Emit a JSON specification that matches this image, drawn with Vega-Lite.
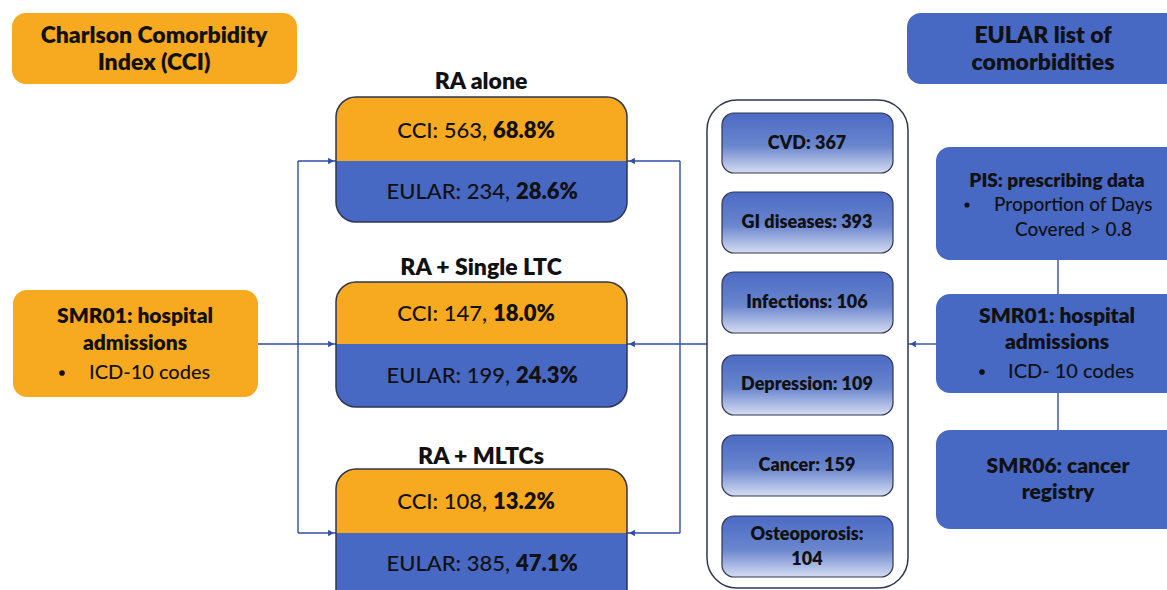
{
  "$schema": "https://vega.github.io/schema/vega-lite/v6.json",
  "width": 1167,
  "height": 590,
  "padding": 0,
  "autosize": {"type": "fit", "contains": "padding"},
  "background": "white",
  "config": {"view": {"stroke": null}, "text": {"font": "Lato", "color": "#111111"}},
  "datasets": {
    "links": [
      {"x": 258, "y": 344, "x2": 336, "y2": 344},
      {"x": 298, "y": 161, "x2": 298, "y2": 533},
      {"x": 298, "y": 161, "x2": 336, "y2": 161},
      {"x": 298, "y": 533, "x2": 336, "y2": 533},
      {"x": 707, "y": 344, "x2": 627, "y2": 344},
      {"x": 680, "y": 161, "x2": 680, "y2": 533},
      {"x": 680, "y": 161, "x2": 627, "y2": 161},
      {"x": 680, "y": 533, "x2": 627, "y2": 533},
      {"x": 936, "y": 344, "x2": 908, "y2": 344},
      {"x": 1058, "y": 260, "x2": 1058, "y2": 294},
      {"x": 1058, "y": 393, "x2": 1058, "y2": 430}
    ],
    "solidBoxes": [
      {"name": "Charlson", "source": "CCI", "x": 12, "x2": 297, "y": 13, "y2": 84},
      {"name": "SMR01 left", "source": "CCI", "x": 13, "x2": 258, "y": 290, "y2": 397},
      {"name": "EULAR list", "source": "EULAR", "x": 907, "x2": 1190, "y": 13, "y2": 84},
      {"name": "PIS", "source": "EULAR", "x": 936, "x2": 1190, "y": 147, "y2": 260},
      {"name": "SMR01 right", "source": "EULAR", "x": 936, "x2": 1190, "y": 294, "y2": 393},
      {"name": "SMR06", "source": "EULAR", "x": 936, "x2": 1190, "y": 430, "y2": 529}
    ],
    "container": [{"x": 707, "x2": 908, "y": 100, "y2": 588}],
    "items": [
      {"label": "CVD: 367", "x": 722, "x2": 893, "y": 113, "y2": 173},
      {"label": "GI diseases: 393", "x": 722, "x2": 893, "y": 192, "y2": 253},
      {"label": "Infections: 106", "x": 722, "x2": 893, "y": 272, "y2": 333},
      {"label": "Depression: 109", "x": 722, "x2": 893, "y": 355, "y2": 415},
      {"label": "Cancer: 159", "x": 722, "x2": 893, "y": 435, "y2": 496},
      {"label": "Osteoporosis: 104", "x": 722, "x2": 893, "y": 516, "y2": 577}
    ],
    "outcomes": [
      {"group": "RA alone", "measure": "CCI", "x": 336, "x2": 627, "y": 97, "y2": 161},
      {"group": "RA alone", "measure": "EULAR", "x": 336, "x2": 627, "y": 161, "y2": 222},
      {"group": "RA + Single LTC", "measure": "CCI", "x": 336, "x2": 627, "y": 282, "y2": 344},
      {"group": "RA + Single LTC", "measure": "EULAR", "x": 336, "x2": 627, "y": 344, "y2": 407},
      {"group": "RA + MLTCs", "measure": "CCI", "x": 336, "x2": 627, "y": 469, "y2": 533},
      {"group": "RA + MLTCs", "measure": "EULAR", "x": 336, "x2": 627, "y": 533, "y2": 610}
    ],
    "frames": [
      {"group": "RA alone", "x": 336, "x2": 627, "y": 97, "y2": 222},
      {"group": "RA + Single LTC", "x": 336, "x2": 627, "y": 282, "y2": 407},
      {"group": "RA + MLTCs", "x": 336, "x2": 627, "y": 469, "y2": 610}
    ],
    "arrows": [
      {"dir": "right", "x": 331, "y": 161},
      {"dir": "right", "x": 331, "y": 344},
      {"dir": "right", "x": 331, "y": 533},
      {"dir": "left", "x": 632, "y": 161},
      {"dir": "left", "x": 632, "y": 344},
      {"dir": "left", "x": 632, "y": 533},
      {"dir": "left", "x": 913, "y": 344}
    ],
    "pct": [
      {"lead": "CCI: 563,", "value": "68.8%", "x": 493, "y": 131},
      {"lead": "EULAR: 234,", "value": "28.6%", "x": 516, "y": 192},
      {"lead": "CCI: 147,", "value": "18.0%", "x": 493, "y": 314},
      {"lead": "EULAR: 199,", "value": "24.3%", "x": 516, "y": 376},
      {"lead": "CCI: 108,", "value": "13.2%", "x": 493, "y": 502},
      {"lead": "EULAR: 385,", "value": "47.1%", "x": 516, "y": 564}
    ],
    "headings": [
      {"role": "box", "text": "Charlson Comorbidity", "x": 154, "y": 36},
      {"role": "box", "text": "Index (CCI)", "x": 154, "y": 63},
      {"role": "box", "text": "EULAR list of", "x": 1043, "y": 36},
      {"role": "box", "text": "comorbidities", "x": 1043, "y": 63},
      {"role": "panel", "text": "RA alone", "x": 481, "y": 82},
      {"role": "panel", "text": "RA + Single LTC", "x": 481, "y": 268},
      {"role": "panel", "text": "RA + MLTCs", "x": 481, "y": 457},
      {"role": "source", "text": "SMR01: hospital", "x": 135, "y": 317},
      {"role": "source", "text": "admissions", "x": 135, "y": 344},
      {"role": "source", "text": "SMR01: hospital", "x": 1057, "y": 317},
      {"role": "source", "text": "admissions", "x": 1057, "y": 343},
      {"role": "source", "text": "SMR06: cancer", "x": 1058, "y": 467},
      {"role": "source", "text": "registry", "x": 1058, "y": 493}
    ],
    "plain": [
      {"text": "ICD-10 codes", "x": 89, "y": 373},
      {"text": "ICD- 10 codes", "x": 1008, "y": 372}
    ],
    "bullets": [
      {"size": "large", "x": 62, "y": 373},
      {"size": "large", "x": 982, "y": 372},
      {"size": "small", "x": 967, "y": 205}
    ],
    "pis": [
      {"text": "PIS: prescribing data", "x": 1057, "y": 181, "weight": "bold"},
      {"text": "Proportion of Days", "x": 994, "y": 205, "weight": "normal"},
      {"text": "Covered > 0.8", "x": 1015, "y": 230, "weight": "normal"}
    ],
    "itemText": [
      {"text": "CVD: 367", "x": 807, "y": 144},
      {"text": "GI diseases: 393", "x": 807, "y": 223},
      {"text": "Infections: 106", "x": 807, "y": 303},
      {"text": "Depression: 109", "x": 807, "y": 385},
      {"text": "Cancer: 159", "x": 807, "y": 466},
      {"text": "Osteoporosis:", "x": 807, "y": 535},
      {"text": "104", "x": 807, "y": 560}
    ]
  },
  "encoding": {
    "x": {"field": "x", "type": "quantitative", "scale": {"domain": [0, 1167], "nice": false, "zero": false}, "axis": null},
    "y": {"field": "y", "type": "quantitative", "scale": {"domain": [0, 590], "nice": false, "zero": false, "reverse": true}, "axis": null}
  },
  "layer": [
    {
      "data": {"name": "links"},
      "mark": {"type": "rule", "color": "#2E4DA7", "strokeWidth": 1.4},
      "encoding": {"x2": {"field": "x2"}, "y2": {"field": "y2"}}
    },
    {
      "data": {"name": "solidBoxes"},
      "mark": {"type": "rect", "cornerRadius": 14, "clip": true},
      "encoding": {
        "x2": {"field": "x2"}, "y2": {"field": "y2"},
        "color": {"field": "source", "type": "nominal", "scale": {"domain": ["CCI", "EULAR"], "range": ["#F7A91F", "#4768C3"]}, "legend": null}
      }
    },
    {
      "data": {"name": "container"},
      "mark": {"type": "rect", "cornerRadius": 30, "fill": "white", "stroke": "#2F3650", "strokeWidth": 1.5},
      "encoding": {"x2": {"field": "x2"}, "y2": {"field": "y2"}}
    },
    {
      "data": {"name": "items"},
      "mark": {
        "type": "rect", "cornerRadius": 12, "stroke": "#2F3650", "strokeWidth": 1.2,
        "fill": {"gradient": "linear", "x1": 0, "y1": 0, "x2": 0, "y2": 1,
          "stops": [{"offset": 0, "color": "#4B6AC4"}, {"offset": 0.55, "color": "#6A86CE"}, {"offset": 1, "color": "#D6DDF2"}]}
      },
      "encoding": {"x2": {"field": "x2"}, "y2": {"field": "y2"}}
    },
    {
      "data": {"name": "outcomes"},
      "transform": [{"filter": "datum.measure === 'CCI'"}],
      "mark": {"type": "rect", "cornerRadiusTopLeft": 20, "cornerRadiusTopRight": 20, "clip": true},
      "encoding": {
        "x2": {"field": "x2"}, "y2": {"field": "y2"},
        "color": {"field": "measure", "type": "nominal", "scale": {"domain": ["CCI", "EULAR"], "range": ["#F7A91F", "#4768C3"]}, "legend": null}
      }
    },
    {
      "data": {"name": "outcomes"},
      "transform": [{"filter": "datum.measure === 'EULAR'"}],
      "mark": {"type": "rect", "cornerRadiusBottomLeft": 20, "cornerRadiusBottomRight": 20, "clip": true},
      "encoding": {
        "x2": {"field": "x2"}, "y2": {"field": "y2"},
        "color": {"field": "measure", "type": "nominal", "scale": {"domain": ["CCI", "EULAR"], "range": ["#F7A91F", "#4768C3"]}, "legend": null}
      }
    },
    {
      "data": {"name": "frames"},
      "mark": {"type": "rect", "cornerRadius": 20, "fill": null, "fillOpacity": 0, "stroke": "#2F3650", "strokeWidth": 1.5, "clip": true},
      "encoding": {"x2": {"field": "x2"}, "y2": {"field": "y2"}}
    },
    {
      "data": {"name": "arrows"},
      "mark": {"type": "point", "filled": true, "size": 45, "opacity": 1, "color": "#2E4DA7"},
      "encoding": {
        "shape": {"field": "dir", "type": "nominal", "scale": {"domain": ["right", "left"], "range": ["triangle-right", "triangle-left"]}, "legend": null}
      }
    },
    {
      "data": {"name": "pct"},
      "mark": {"type": "text", "align": "right", "baseline": "middle", "fontSize": 22, "fontWeight": 500, "dx": -6},
      "encoding": {"text": {"field": "lead"}}
    },
    {
      "data": {"name": "pct"},
      "mark": {"type": "text", "align": "left", "baseline": "middle", "fontSize": 22, "fontWeight": 800},
      "encoding": {"text": {"field": "value"}}
    },
    {
      "data": {"name": "headings"},
      "transform": [{"filter": "datum.role !== 'source'"}],
      "mark": {"type": "text", "align": "center", "baseline": "middle", "fontSize": 23, "fontWeight": 800},
      "encoding": {"text": {"field": "text"}}
    },
    {
      "data": {"name": "headings"},
      "transform": [{"filter": "datum.role === 'source'"}],
      "mark": {"type": "text", "align": "center", "baseline": "middle", "fontSize": 21, "fontWeight": 800},
      "encoding": {"text": {"field": "text"}}
    },
    {
      "data": {"name": "plain"},
      "mark": {"type": "text", "align": "left", "baseline": "middle", "fontSize": 20, "fontWeight": 500},
      "encoding": {"text": {"field": "text"}}
    },
    {
      "data": {"name": "bullets"},
      "mark": {"type": "circle", "opacity": 1, "color": "#111111"},
      "encoding": {
        "size": {"field": "size", "type": "nominal", "scale": {"domain": ["large", "small"], "range": [32, 26]}, "legend": null}
      }
    },
    {
      "data": {"name": "pis"},
      "transform": [{"filter": "datum.weight === 'bold'"}],
      "mark": {"type": "text", "align": "center", "baseline": "middle", "fontSize": 19, "fontWeight": 800},
      "encoding": {"text": {"field": "text"}}
    },
    {
      "data": {"name": "pis"},
      "transform": [{"filter": "datum.weight === 'normal'"}],
      "mark": {"type": "text", "align": "left", "baseline": "middle", "fontSize": 19, "fontWeight": 500},
      "encoding": {"text": {"field": "text"}}
    },
    {
      "data": {"name": "itemText"},
      "mark": {"type": "text", "align": "center", "baseline": "middle", "fontSize": 18, "fontWeight": 800},
      "encoding": {"text": {"field": "text"}}
    }
  ]
}
